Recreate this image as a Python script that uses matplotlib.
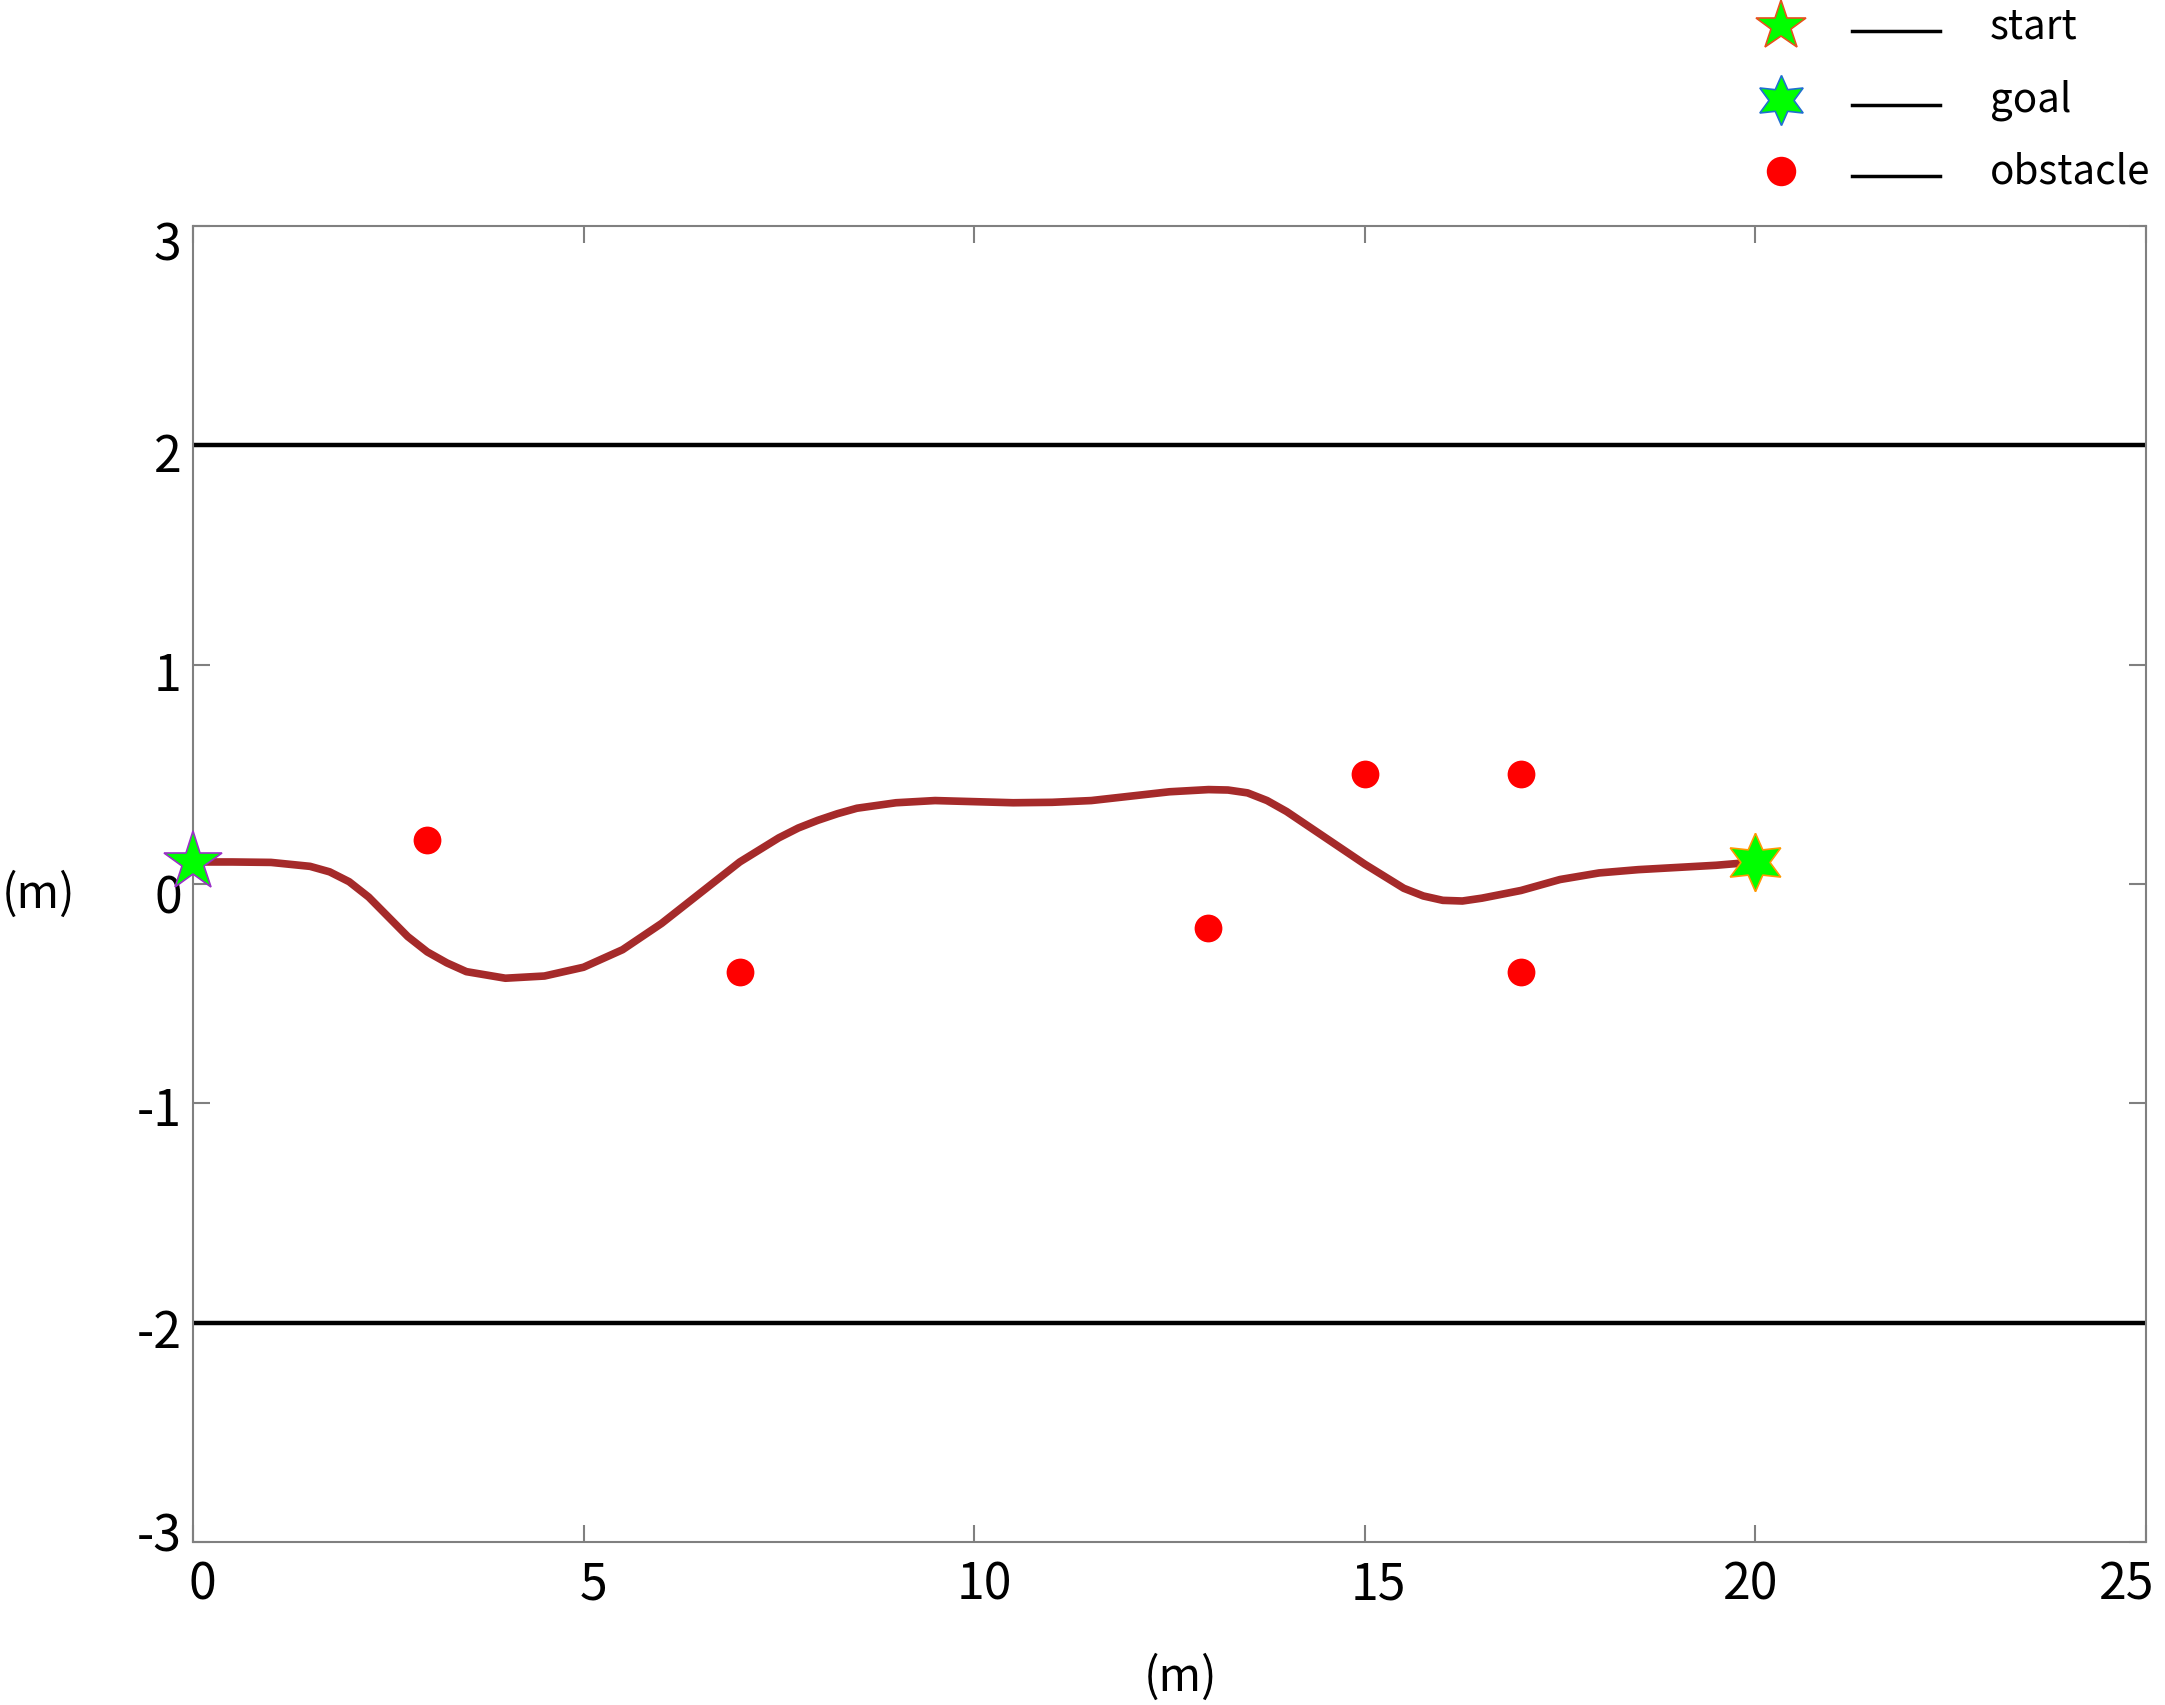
import matplotlib
matplotlib.use("Agg")
import matplotlib.pyplot as plt
from matplotlib.lines import Line2D
from matplotlib.transforms import ScaledTranslation

plt.rcParams['font.family'] = ['Noto Sans CJK SC', 'DejaVu Sans']

# Data
path_x = [0, 0.5, 1.0, 1.5, 1.75, 2.0, 2.25, 2.5, 2.75, 3.0, 3.25, 3.5, 4.0, 4.5, 5.0,
          5.5, 6.0, 6.5, 7.0, 7.5, 7.75, 8.0, 8.25, 8.5, 9.0, 9.5, 10.0, 10.5, 11.0,
          11.5, 12.0, 12.5, 13.0, 13.25, 13.5, 13.75, 14.0, 14.5, 15.0, 15.5, 15.75,
          16.0, 16.25, 16.5, 17.0, 17.5, 18.0, 18.5, 19.0, 19.5, 20.0]
path_y = [0.1, 0.1, 0.098, 0.08, 0.055, 0.01, -0.06, -0.15, -0.24, -0.31, -0.36, -0.40,
          -0.43, -0.42, -0.38, -0.30, -0.18, -0.04, 0.10, 0.21, 0.255, 0.29, 0.32, 0.345,
          0.37, 0.38, 0.375, 0.37, 0.372, 0.38, 0.40, 0.42, 0.43, 0.428, 0.415, 0.38,
          0.33, 0.21, 0.09, -0.02, -0.055, -0.075, -0.078, -0.065, -0.03, 0.02, 0.05,
          0.065, 0.075, 0.085, 0.1]
obstacle_x = [3, 7, 13, 15, 17, 17]
obstacle_y = [0.2, -0.4, -0.2, 0.5, 0.5, -0.4]
start = (0, 0.1)
goal = (20, 0.1)
bound_x = [0, 25]
upper_bound = [2, 2]
lower_bound = [-2, -2]
xticks = [0, 5, 10, 15, 20, 25]
yticks = [-3, -2, -1, 0, 1, 2, 3]
legend_labels = ['start', 'goal', 'obstacle']

fig = plt.figure(figsize=(21.65, 17.06), dpi=100)
ax = fig.add_axes([0.0891, 0.0956, 0.9912 - 0.0891, 0.867 - 0.0956])

ax.plot(bound_x, upper_bound, color='black', lw=3.2, zorder=2)
ax.plot(bound_x, lower_bound, color='black', lw=3.2, zorder=2)
ax.plot(path_x, path_y, color='#a52a2a', lw=5.5, solid_capstyle='butt',
        solid_joinstyle='round', zorder=3)
ax.plot(obstacle_x, obstacle_y, 'o', color='red', markersize=20, markeredgewidth=0, zorder=4)
ax.plot([start[0]], [start[1]], marker='*', markersize=44, markerfacecolor='#00ff00',
        markeredgecolor='#9b30c8', markeredgewidth=1.2, linestyle='none', zorder=5, clip_on=False)
ax.plot([goal[0]], [goal[1]], marker=(6, 1, 0), markersize=42, markerfacecolor='#00ff00',
        markeredgecolor='#ff9900', markeredgewidth=1.2, linestyle='none', zorder=5)

ax.set_xlim(0, 25)
ax.set_ylim(-3, 3)
ax.set_xticks(xticks)
ax.set_yticks(yticks)
ax.set_xticklabels([str(v) for v in xticks])
ax.set_yticklabels([str(v) for v in yticks])
ax.tick_params(axis='both', direction='in', length=12, width=1.5, color='#808080',
               labelsize=36, top=True, right=True)
ax.tick_params(axis='x', pad=12)
ax.tick_params(axis='y', pad=8)
for s in ax.spines.values():
    s.set_color('#808080')
    s.set_linewidth(1.5)

# small label offsets (in pixels) to mimic the reference's label placement
x_off = [9, 10, 10, 14, -5, -19]
y_off = [11, -4, -2, -9, -5, -6, -14]
for lab, dx in zip(ax.get_xticklabels(), x_off):
    lab.set_transform(lab.get_transform() + ScaledTranslation(dx / 100, 0, fig.dpi_scale_trans))
for lab, dy in zip(ax.get_yticklabels(), y_off):
    lab.set_transform(lab.get_transform() + ScaledTranslation(0, dy / 100, fig.dpi_scale_trans))

# axis labels
fig.text(0.5453, 1 - 1678 / 1706, '(m)', fontsize=33, ha='center', va='center')
fig.text(0.018, 1 - 895 / 1706, '(m)', fontsize=33, ha='center', va='center')

# Legend (manual, outside the axes at the top right)
rows_y = [0.984, 0.941, 0.899]
marker_x = 0.8226
line_x = [0.8554, 0.8961]
text_x = 0.919
legend_markers = [
    dict(marker='*', markersize=38, markerfacecolor='#00ff00', markeredgecolor='#e8501e'),
    dict(marker=(6, 1, 0), markersize=36, markerfacecolor='#00ff00', markeredgecolor='#1f6fd0'),
    dict(marker='o', markersize=20, markerfacecolor='red', markeredgecolor='red'),
]
for y, lab, mk in zip(rows_y, legend_labels, legend_markers):
    fig.add_artist(Line2D([marker_x], [y], transform=fig.transFigure, linestyle='none',
                          markeredgewidth=1.2, **mk))
    fig.add_artist(Line2D(line_x, [y - 0.003, y - 0.003], transform=fig.transFigure,
                          color='black', lw=2.5))
    fig.text(text_x, y, lab, fontsize=29, ha='left', va='center')

fig.savefig('out.png', dpi=100)
